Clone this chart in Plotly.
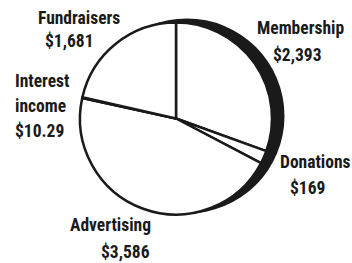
import plotly.graph_objects as go

# Data
categories = ["Membership", "Donations", "Advertising", "Interest income", "Fundraisers"]
values = [2393, 169, 3586, 10.29, 1681]

W, H = 352, 263

def fmt(v):
    return f"${v:,.0f}" if float(v).is_integer() else f"${v:,.2f}"

def px_dom_x(c, r):
    return [(c - r) / W, (c + r) / W]

def px_dom_y(c, r):
    return [1 - (c + r) / H, 1 - (c - r) / H]

fig = go.Figure()

# shadow disc (3-D edge effect)
fig.add_trace(go.Pie(
    values=[1], labels=["shadow"], marker=dict(colors=["#1a1a1a"], line=dict(width=0)),
    textinfo="none", hoverinfo="skip", showlegend=False, sort=False,
    domain=dict(x=px_dom_x(187, 97.5), y=px_dom_y(116, 97.5)),
))

# main pie
fig.add_trace(go.Pie(
    values=values, labels=categories, sort=False, direction="clockwise", rotation=0,
    marker=dict(colors=["white"] * len(values), line=dict(color="#1a1a1a", width=2.5)),
    textinfo="none", showlegend=False,
    domain=dict(x=px_dom_x(176, 96), y=px_dom_y(118.5, 96)),
))

label_lines = {
    "Fundraisers": [("Fundraisers", 36, 18), (None, 43, 41)],
    "Membership": [("Membership", 255, 28.5), (None, 271, 54.5)],
    "Interest income": [("Interest", 13, 80.5), ("income", 13, 105.5), (None, 13, 131)],
    "Advertising": [("Advertising", 68, 225), (None, 99, 252)],
    "Donations": [("Donations", 278, 161.5), (None, 288, 187.5)],
}

font = dict(family="Roboto Condensed, Liberation Sans Narrow, Arial Narrow, DejaVu Sans Condensed, sans-serif",
            size=17.5, color="#1a1a1a")
for cat, val in zip(categories, values):
    for txt, x, y in label_lines[cat]:
        t = txt if txt is not None else fmt(val)
        fig.add_annotation(text=f"<b>{t}</b>", x=x / W, y=1 - y / H, xref="paper", yref="paper",
                           xanchor="left", yanchor="middle", showarrow=False, font=font)

fig.update_layout(width=W, height=H, margin=dict(l=0, r=0, t=0, b=0),
                  paper_bgcolor="white", plot_bgcolor="white")
fig.write_html("out.html", config={"displayModeBar": False},
               post_script="document.body.style.margin='0';")
